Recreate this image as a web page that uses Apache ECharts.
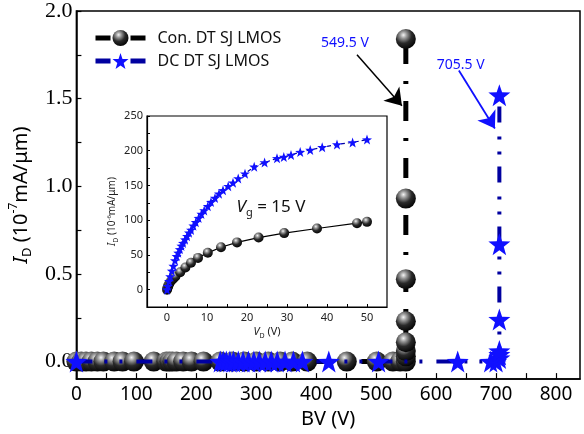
<!DOCTYPE html>
<html>
<head>
<meta charset="utf-8">
<script src="https://cdn.jsdelivr.net/npm/echarts@6/dist/echarts.min.js"></script>
<style>html,body{margin:0;padding:0;background:#fff}#c{width:584px;height:434px}</style>
</head>
<body>
<div id="c"></div>
<script>
// ---- Main plot data: BV (V) vs I_D (1e-7 mA/um) ----
const conBV = [0, 8, 16, 25, 35, 45, 63, 77, 96, 129, 150, 155, 160, 167, 178, 192, 212, 240, 260, 280, 300, 320, 340, 360, 385, 451, 501, 528, 540, 549.5, 549.5, 549.5, 549.5, 549.5, 549.5, 549.5, 549.5];
const conID = [0, 0, 0, 0, 0, 0, 0, 0, 0, 0, 0, 0, 0, 0, 0, 0, 0, 0, 0, 0, 0, 0, 0, 0, 0, 0, 0, 0, 0, 0, 0.03, 0.06, 0.11, 0.23, 0.47, 0.93, 1.84];
const dcBV = [0, 240, 245, 250, 256, 262, 270, 278, 287, 296, 305, 315, 325, 335, 348, 362, 377, 421, 504, 636, 691, 700, 705.5, 705.5, 705.5, 705.5, 705.5, 705.5];
const dcID = [0, 0, 0, 0, 0, 0, 0, 0, 0, 0, 0, 0, 0, 0, 0, 0, 0, 0, 0, 0, 0, 0, 0.02, 0.04, 0.06, 0.24, 0.67, 1.52];

// ---- Inset data: V_D (V) vs I_D (1e-6 mA/um), Vg = 15 V ----
const inConVD = [0, 0.1, 0.2, 0.35, 0.5, 0.8, 1.2, 1.6, 2.1, 3.3, 4.6, 6.0, 7.75, 10.2, 13.5, 17.5, 22.9, 29.3, 37.5, 47.5, 50];
const inConID = [0, 2, 4, 6, 8, 11, 14, 16, 19, 25, 32, 38.6, 45.7, 53, 61, 68, 75, 81.4, 88, 95.7, 97.6];
const inDcVD = [0, 0.2, 0.5, 0.8, 1.2, 1.6, 2.0, 2.4, 2.8, 3.2, 3.6, 4.0, 4.5, 5.0, 5.5, 6.0, 6.6, 7.2, 7.9, 8.6, 9.3, 10.2, 11.0, 12.0, 13.0, 14.0, 15.3, 16.5, 17.8, 19.5, 21.8, 24.4, 27.5, 29.2, 31.0, 33.3, 35.8, 38.8, 42.5, 46.4, 50.0];
const inDcID = [0, 5, 12, 19, 27, 34, 42, 48, 53, 58, 63, 67, 72, 77, 82, 86, 92, 97, 103, 109, 114, 120, 126, 132, 138, 143, 149, 154, 160, 167, 177, 183, 189, 191, 194, 198, 201, 205, 209, 212, 216];

// ---- Tick labels ----
const mainXLabels = [0, 100, 200, 300, 400, 500, 600, 700, 800];
const mainXTicks = [0, 50, 100, 150, 200, 250, 300, 350, 400, 450, 500, 550, 600, 650, 700, 750, 800];
const mainYLabels = [0, 0.5, 1.0, 1.5, 2.0];
const mainYTicks = [0, 0.25, 0.5, 0.75, 1.0, 1.25, 1.5, 1.75, 2.0];
const inXLabels = [0, 10, 20, 30, 40, 50];
const inXTicks = [0, 5, 10, 15, 20, 25, 30, 35, 40, 45, 50];
const inYLabels = [0, 50, 100, 150, 200, 250];
const inYTicks = [0, 25, 50, 75, 100, 125, 150, 175, 200, 225, 250];

const zip = (a, b) => a.map((v, i) => [v, b[i]]);
const SANS = 'Noto Sans';
const STAR = 'path://M0,-10 L2.35,-3.24 L9.51,-3.09 L3.8,1.24 L5.88,8.09 L0,4 L-5.88,8.09 L-3.8,1.24 L-9.51,-3.09 L-2.35,-3.24 Z';
const sphere = {
  type: 'radial', x: 0.38, y: 0.3, r: 0.75,
  colorStops: [
    {offset: 0, color: '#f4f4f4'},
    {offset: 0.22, color: '#9a9a9a'},
    {offset: 0.55, color: '#2a2a2a'},
    {offset: 1, color: '#000'}
  ]
};
const BLUE = '#1010ff';
const NAVY = '#0000a0';

const chart = echarts.init(document.getElementById('c'), null, {renderer: 'canvas'});
chart.setOption({
  animation: false,
  backgroundColor: '#fff',
  grid: [
    {left: 72, right: 4, top: 10, bottom: 52, show: true, borderColor: '#000', borderWidth: 1.5, backgroundColor: 'transparent'},
    {left: 147, width: 240, top: 116, height: 191, show: true, borderColor: '#000', borderWidth: 1.2, backgroundColor: '#fff'}
  ],
  legend: {
    orient: 'vertical', left: 88, top: 25, itemWidth: 50, itemHeight: 20, itemGap: 7,
    textStyle: {fontFamily: SANS, fontSize: 16, color: '#111', padding: [0, 0, 0, 7]},
    data: [
      {name: 'Con. DT SJ LMOS', lineStyle: {color: '#000', width: 5, type: [15, 20]}},
      {name: 'DC DT SJ LMOS', lineStyle: {color: NAVY, width: 5, type: [15, 20]}}
    ]
  },
  xAxis: [
    {
      type: 'value', gridIndex: 0, min: 0, max: 840,
      axisLine: {show: true, onZero: false, lineStyle: {color: '#000', width: 1.5}},
      axisTick: {show: true, inside: true, length: 6, customValues: mainXTicks, lineStyle: {color: '#000', width: 1.2}},
      axisLabel: {customValues: mainXLabels, fontFamily: SANS, fontSize: 19, color: '#000', margin: 6},
      splitLine: {show: false},
      name: 'BV (V)', nameLocation: 'middle', nameGap: 26,
      nameTextStyle: {fontFamily: SANS, fontSize: 20, color: '#000'}
    },
    {
      type: 'value', gridIndex: 1, min: -5, max: 55,
      axisLine: {show: true, onZero: false, lineStyle: {color: '#000', width: 1.2}},
      axisTick: {show: true, inside: true, length: 3, customValues: inXTicks, lineStyle: {color: '#000'}},
      axisLabel: {customValues: inXLabels, fontFamily: SANS, fontSize: 11, color: '#222', margin: 5},
      splitLine: {show: false},
      name: '{i|V}{sub|D}{n| (V)}', nameLocation: 'middle', nameGap: 18,
      nameTextStyle: {
        fontFamily: SANS, fontSize: 11, color: '#222',
        rich: {
          i: {fontFamily: SANS, fontSize: 11, fontStyle: 'italic', color: '#222', lineHeight: 14},
          sub: {fontFamily: SANS, fontSize: 7, color: '#222', verticalAlign: 'bottom', lineHeight: 8},
          n: {fontFamily: SANS, fontSize: 11, color: '#222', lineHeight: 14}
        }
      }
    }
  ],
  yAxis: [
    {
      type: 'value', gridIndex: 0, min: -0.1, max: 2.0,
      axisLine: {show: true, onZero: false, lineStyle: {color: '#000', width: 1.5}},
      axisTick: {show: true, inside: true, length: 5, customValues: mainYTicks, lineStyle: {color: '#000', width: 1.2}},
      axisLabel: {customValues: mainYLabels, formatter: v => v.toFixed(1), fontFamily: 'Liberation Serif', fontSize: 22, color: '#000', margin: 4},
      splitLine: {show: false},
      name: '{i|I}{sub|D}{n| (10}{sup|-7}{n|mA/μm)}', nameLocation: 'middle', nameRotate: 90, nameGap: 38,
      nameTextStyle: {
        fontFamily: SANS, fontSize: 20, color: '#000',
        rich: {
          i: {fontFamily: SANS, fontSize: 20, fontStyle: 'italic', color: '#000', lineHeight: 26},
          sub: {fontFamily: SANS, fontSize: 13, color: '#000', verticalAlign: 'bottom', lineHeight: 14},
          sup: {fontFamily: SANS, fontSize: 12, color: '#000', verticalAlign: 'top', lineHeight: 12},
          n: {fontFamily: SANS, fontSize: 20, color: '#000', lineHeight: 26}
        }
      }
    },
    {
      type: 'value', gridIndex: 1, min: -25, max: 250,
      axisLine: {show: true, onZero: false, lineStyle: {color: '#000', width: 1.2}},
      axisTick: {show: true, inside: true, length: 3, customValues: inYTicks, lineStyle: {color: '#000'}},
      axisLabel: {customValues: inYLabels, fontFamily: SANS, fontSize: 11, color: '#222', margin: 4},
      splitLine: {show: false},
      name: '{i|I}{sub|D}{n| (10}{sup|-6}{n|mA/μm)}', nameLocation: 'middle', nameRotate: 90, nameGap: 28,
      nameTextStyle: {
        fontFamily: SANS, fontSize: 10, color: '#222',
        rich: {
          i: {fontFamily: SANS, fontSize: 10, fontStyle: 'italic', color: '#222', lineHeight: 13},
          sub: {fontFamily: SANS, fontSize: 7, color: '#222', verticalAlign: 'bottom', lineHeight: 7},
          sup: {fontFamily: SANS, fontSize: 6, color: '#222', verticalAlign: 'top', lineHeight: 6},
          n: {fontFamily: SANS, fontSize: 10, color: '#222', lineHeight: 13}
        }
      }
    }
  ],
  series: [
    {
      name: 'Con. DT SJ LMOS', type: 'line', xAxisIndex: 0, yAxisIndex: 0,
      data: zip(conBV, conID),
      symbol: 'circle', symbolSize: 20, showAllSymbol: true,
      itemStyle: {color: sphere},
      lineStyle: {color: '#000', width: 5, type: [20, 17, 3, 17]},
      z: 3,
      markLine: {
        silent: true, symbol: ['none', 'arrow'], symbolSize: 16, animation: false,
        lineStyle: {color: '#000', width: 1.5, type: 'solid'}, label: {show: false},
        data: [[{coord: [468, 1.75]}, {coord: [543, 1.46]}]]
      },
      markPoint: {
        silent: true, symbol: 'circle', symbolSize: 0,
        label: {show: true, fontFamily: SANS, fontSize: 14, color: BLUE},
        data: [{coord: [448, 1.82], value: '549.5 V', label: {formatter: '549.5 V'}}]
      }
    },
    {
      name: 'DC DT SJ LMOS', type: 'line', xAxisIndex: 0, yAxisIndex: 0,
      data: zip(dcBV, dcID),
      symbol: STAR, symbolSize: 22, showAllSymbol: true,
      itemStyle: {color: BLUE},
      lineStyle: {color: NAVY, width: 4, type: [16, 12, 3, 12, 3, 14]},
      z: 4,
      markLine: {
        silent: true, symbol: ['none', 'arrow'], symbolSize: 16, animation: false,
        lineStyle: {color: BLUE, width: 1.8, type: 'solid'}, label: {show: false},
        data: [[{coord: [638, 1.66]}, {coord: [698, 1.33]}]]
      },
      markPoint: {
        silent: true, symbol: 'circle', symbolSize: 0,
        label: {show: true, fontFamily: SANS, fontSize: 14, color: BLUE},
        data: [{coord: [641, 1.69], value: '705.5 V', label: {formatter: '705.5 V'}}]
      }
    },
    {
      name: 'inset-con', type: 'line', xAxisIndex: 1, yAxisIndex: 1,
      data: zip(inConVD, inConID),
      symbol: 'circle', symbolSize: 10, showAllSymbol: true,
      itemStyle: {color: sphere},
      lineStyle: {color: '#000', width: 1.2},
      z: 6,
      markPoint: {
        silent: true, symbol: 'circle', symbolSize: 0,
        label: {
          show: true, formatter: '{i|V}{sub|g}{n| = 15 V}',
          rich: {
            i: {fontFamily: SANS, fontSize: 17, fontStyle: 'italic', color: '#111', lineHeight: 22},
            sub: {fontFamily: SANS, fontSize: 11, color: '#111', verticalAlign: 'bottom', lineHeight: 11},
            n: {fontFamily: SANS, fontSize: 17, color: '#111', lineHeight: 22}
          }
        },
        data: [{coord: [26, 119], value: 0}]
      }
    },
    {
      name: 'inset-dc', type: 'line', xAxisIndex: 1, yAxisIndex: 1,
      data: zip(inDcVD, inDcID),
      symbol: STAR, symbolSize: 10, showAllSymbol: true,
      itemStyle: {color: BLUE},
      lineStyle: {color: NAVY, width: 1.2, type: [4, 3]},
      z: 6
    }
  ]
});
</script>
</body>
</html>
